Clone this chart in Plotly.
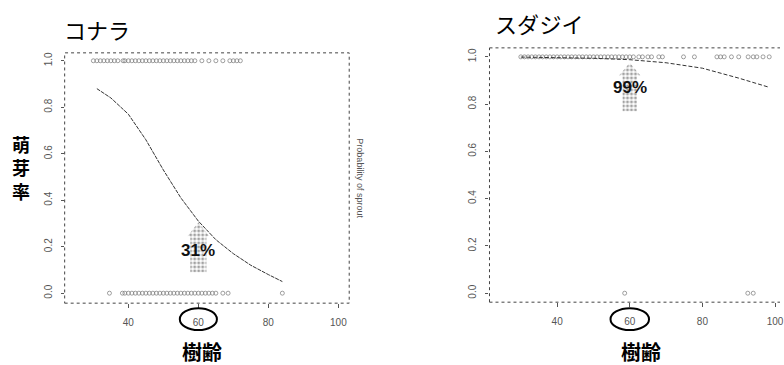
import plotly.graph_objects as go

W, H = 784, 365

# ---------------- data ----------------
X_TICKS = [40, 60, 80, 100]
Y_TICKS = [0.0, 0.2, 0.4, 0.6, 0.8, 1.0]

# コナラ (left)
konara_sprout_age = [30, 31, 32, 33, 34, 35, 36, 37, 38.5, 39, 40, 41, 42, 43, 44, 45,
                     46, 47, 48, 49, 50, 51, 52, 53, 54, 55, 56, 57, 58, 59, 61, 63,
                     65, 67, 69, 70, 71, 72]
konara_nosprout_age = [34.6, 38.3, 39, 40, 41, 42, 43, 44, 45, 46, 47, 48, 49, 50, 51,
                       52, 53, 54, 55, 56, 57, 58, 59, 60, 61, 62, 63, 64, 65, 67,
                       68.5, 84]
konara_curve_age = [31, 35, 40, 45, 50, 55, 60, 65, 70, 75, 80, 84]
konara_curve_p = [0.88, 0.84, 0.77, 0.66, 0.53, 0.41, 0.31, 0.23, 0.17, 0.12, 0.08, 0.05]

# スダジイ (right)
sudajii_sprout_age = [30, 31, 32, 33, 34, 35, 36, 37, 38, 39, 40, 41, 42, 43, 44, 45,
                      46, 47, 48, 49, 50, 51, 52, 53, 54, 55, 56, 57, 58, 59, 60, 61,
                      62.5, 63.5, 65, 66, 68, 69, 74.8, 77.8, 84, 85, 86, 88, 90,
                      92.6, 94, 95, 96.7, 98.4]
sudajii_nosprout_age = [58.6, 92.5, 94]
sudajii_curve_age = [30, 40, 50, 60, 70, 80, 90, 98]
sudajii_curve_p = [0.999, 0.997, 0.994, 0.988, 0.975, 0.952, 0.91, 0.873]

HIGHLIGHT_AGE = 60
konara_label = "31%"
sudajii_label = "99%"

# ---------------- figure ----------------
fig = go.Figure()

marker = dict(symbol="circle-open", size=4, color="#777", line=dict(width=0.7, color="#777"))

def add_panel(xa, ya, sp, nsp, cx, cy, dash):
    fig.add_trace(go.Scatter(x=sp, y=[1] * len(sp), mode="markers", marker=marker,
                             xaxis=xa, yaxis=ya, showlegend=False, hoverinfo="skip"))
    fig.add_trace(go.Scatter(x=nsp, y=[0] * len(nsp), mode="markers", marker=marker,
                             xaxis=xa, yaxis=ya, showlegend=False, hoverinfo="skip"))
    fig.add_trace(go.Scatter(x=cx, y=cy, mode="lines", line=dict(color="#333", width=1, dash=dash),
                             xaxis=xa, yaxis=ya, showlegend=False, hoverinfo="skip"))

def add_arrow(xa, ya, x0, tip, head_h, head_w, shaft_w, bottom):
    xs = [x0, x0 + head_w, x0 + shaft_w, x0 + shaft_w, x0 - shaft_w, x0 - shaft_w, x0 - head_w, x0]
    ys = [tip, tip - head_h, tip - head_h, bottom, bottom, tip - head_h, tip - head_h, tip]
    fig.add_trace(go.Scatter(x=xs, y=ys, mode="lines", fill="toself",
                             fillcolor="white",
                             fillpattern=dict(shape=".", fgcolor="#444", bgcolor="white",
                                              size=4, solidity=0.45),
                             line=dict(width=0, color="rgba(0,0,0,0)"),
                             xaxis=xa, yaxis=ya, showlegend=False, hoverinfo="skip"))

add_arrow("x", "y", HIGHLIGHT_AGE, konara_curve_p[6] - 0.005, 0.06, 3.1, 2.3, 0.09)
add_arrow("x2", "y2", HIGHLIGHT_AGE, sudajii_curve_p[3] - 0.013, 0.055, 3.0, 2.0, 0.77)
add_panel("x", "y", konara_sprout_age, konara_nosprout_age, konara_curve_age, konara_curve_p, "4px,1px")
add_panel("x2", "y2", sudajii_sprout_age, sudajii_nosprout_age, sudajii_curve_age, sudajii_curve_p, "4px,2px")

tickfont = dict(family="Liberation Sans, Arial", size=10, color="#555")
xcommon = dict(tickvals=X_TICKS, ticks="outside", ticklen=4, tickcolor="#555",
               showgrid=False, zeroline=False, showline=False, tickfont=tickfont,
               ticklabelstandoff=6, ticklabeloverflow="allow")
ycommon = dict(tickvals=Y_TICKS, tickformat=".1f", ticks="outside", ticklen=3, tickcolor="#555",
               showgrid=False, zeroline=False, showline=False, tickfont=tickfont,
               tickangle=270, ticklabelstandoff=5, ticklabeloverflow="allow")

fig.update_layout(
    width=W, height=H, margin=dict(l=0, r=0, t=0, b=0),
    paper_bgcolor="white", plot_bgcolor="white",
    xaxis=dict(domain=[65 / W, 351 / W], range=[21.8, 103.1], anchor="y", **xcommon),
    yaxis=dict(domain=[1 - 303 / H, 1 - 52 / H], range=[-0.043, 1.034], anchor="x", **ycommon),
    xaxis2=dict(domain=[492 / W, 1.0], range=[21.37, 101.37], anchor="y2", **xcommon),
    yaxis2=dict(domain=[1 - 302 / H, 1 - 47 / H], range=[-0.038, 1.038], anchor="x2", **ycommon),
)

frame = dict(color="#444", width=1, dash="dot")
# left box
fig.add_shape(type="rect", xref="x domain", yref="y domain", x0=0, x1=1, y0=0, y1=1, line=frame)
# right box (right edge falls outside the picture)
for (x0, y0, x1, y1) in [(0, 0, 0, 1), (0, 1, 1, 1), (0, 0, 1, 0)]:
    fig.add_shape(type="line", xref="x2 domain", yref="y2 domain", x0=x0, x1=x1, y0=y0, y1=y1, line=frame)

# ellipses around the 60 tick label
for xr in ["x", "x2"]:
    fig.add_shape(type="circle", xref=xr, yref="paper",
                  x0=HIGHLIGHT_AGE - 5.3, x1=HIGHLIGHT_AGE + 5.3,
                  y0=1 - 330 / H, y1=1 - 308 / H, line=dict(color="black", width=2))

cjk = "Noto Sans CJK JP"
ann = [
    dict(text="コナラ", x=97 / W, y=1 - 28 / H, size=22, bold=False, ya="middle", ys=0),
    dict(text="スダジイ", x=542 / W, y=1 - 22 / H, size=22, bold=False, ya="middle", ys=0),
    dict(text="萌<br>芽<br>率", x=21 / W, y=1 - 167 / H, size=18, bold=True, ya="middle", ys=0),
    dict(text="樹齢", x=203 / W, y=0.0, size=20, bold=True, ya="bottom", ys=-3),
    dict(text="樹齢", x=644 / W, y=0.0, size=20, bold=True, ya="bottom", ys=-3),
]
for a in ann:
    fig.add_annotation(text=a["text"], x=a["x"], y=a["y"], xref="paper", yref="paper",
                       showarrow=False, xanchor="center", yanchor=a["ya"], yshift=a["ys"],
                       font=dict(family=cjk, size=a["size"], color="black",
                                 weight="bold" if a["bold"] else "normal"))

fig.add_annotation(text="Probability of sprout", x=362 / W, y=1 - 178 / H, xref="paper", yref="paper",
                   showarrow=False, textangle=90,
                   font=dict(family="Liberation Sans, Arial", size=9, color="#555"))

fig.add_annotation(text=f"<b>{konara_label}</b>", x=HIGHLIGHT_AGE, y=0.185, xref="x", yref="y",
                   showarrow=False, font=dict(family="Liberation Sans, Arial", size=17, color="#111"))
fig.add_annotation(text=f"<b>{sudajii_label}</b>", x=HIGHLIGHT_AGE, y=0.87, xref="x2", yref="y2",
                   showarrow=False, font=dict(family="Liberation Sans, Arial", size=17, color="#111"))

fig.write_html("out.html")
